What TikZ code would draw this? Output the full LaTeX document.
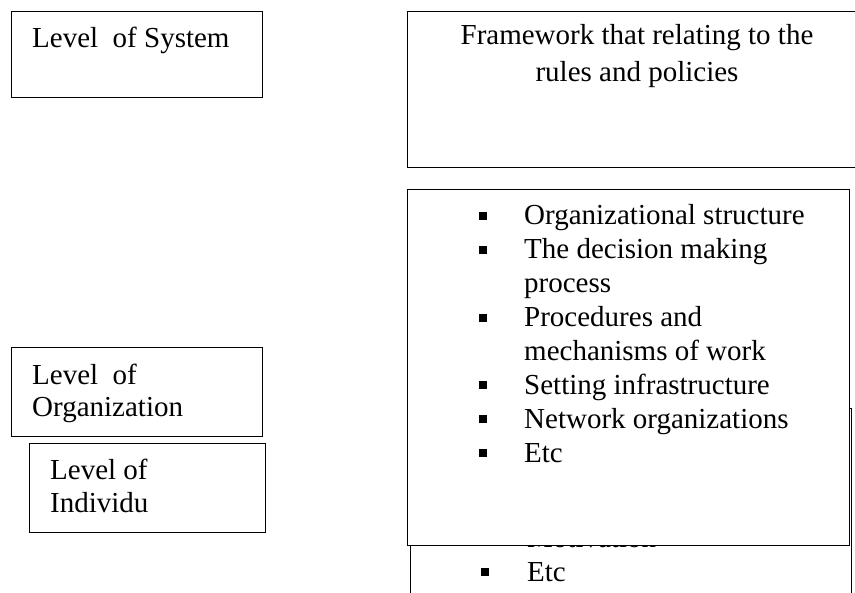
\documentclass[tikz,border=0pt]{standalone}
\usepackage{fontspec}
\setmainfont{Liberation Serif}
\usetikzlibrary{positioning}

\tikzset{
  levelbox/.style={draw, line width=1.2pt, anchor=north west, inner sep=0pt},
  boxtext/.style={anchor=base west, inner sep=0pt, font=\fontsize{29}{34}\selectfont},
}

\begin{document}
\begin{tikzpicture}[x=1pt,y=-1pt]
\useasboundingbox (0,0) rectangle (855,593);
\clip (0,0) rectangle (855,593);

% left column
\node [levelbox, minimum width=251, minimum height=86] (sysbox) at (11,11) {};
\node [boxtext] (systext) at (32,48) {Level\ \ of System};

\node [levelbox, minimum width=251, minimum height=89] (orgbox) at (11,347) {};
\node [boxtext] (orgtexta) at (32,385) {Level\ \ of};
\node [boxtext] (orgtextb) at (32,417) {Organization};

\node [levelbox, minimum width=236, minimum height=89] (indbox) at (29,443) {};
\node [boxtext] (indtexta) at (50,480) {Level of};
\node [boxtext] (indtextb) at (50,513) {Individu};

% right column
\node [levelbox, minimum width=463, minimum height=156] (rulebox) at (407,11) {};
\node [boxtext, anchor=base] (ruletexta) at (637,45) {Framework that relating to the};
\node [boxtext, anchor=base] (ruletextb) at (637,82) {rules and policies};

% box behind
\node [levelbox, minimum width=441, minimum height=220] (indlist) at (410,408) {};
\node [boxtext] (motiv) at (527,548) {Motivation};
\fill (481,568) rectangle ++(8,8);
\node [boxtext] (indetc) at (527,582) {Etc};

% box in front
\node [levelbox, fill=white, minimum width=442, minimum height=356] (orglist) at (407,189) {};
\foreach \t [count=\i from 0] in {Organizational structure, The decision making, process,
    Procedures and, mechanisms of work, Setting infrastructure, Network organizations, Etc}
  \node [boxtext] (org\i) at (524,225+\i*33.9) {\t};
\foreach \i in {0,1,3,5,6,7}
  \fill (479,212+\i*33.9) rectangle ++(8,8);
\end{tikzpicture}
\end{document}
